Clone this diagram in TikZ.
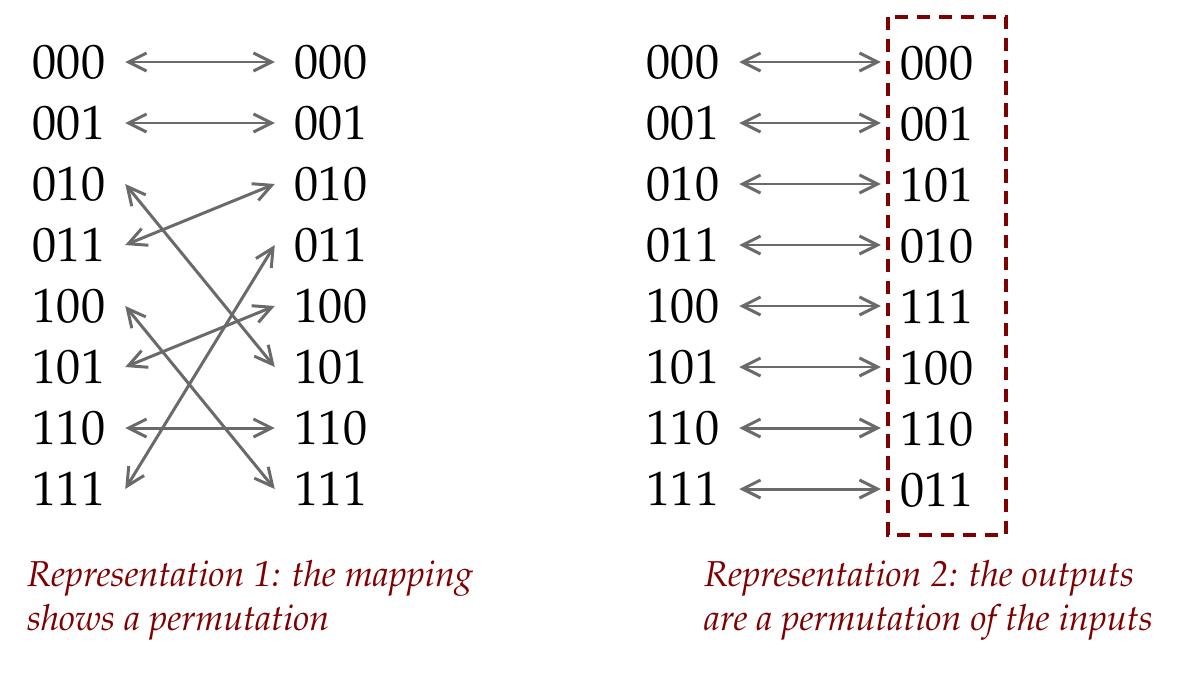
\documentclass[tikz,border=0pt]{standalone}
\usepackage[T1]{fontenc}
\usepackage{mathpazo}
\usepackage{tikz}
\usetikzlibrary{arrows.meta}
\definecolor{permGray}{HTML}{6A6A6A}
\definecolor{permRed}{HTML}{7F0000}

\begin{document}
\begin{tikzpicture}[font=\fontsize{27.5}{32}\selectfont, >={Straight Barb[length=3.6mm,width=3.6mm]},
  bits/.style={inner sep=0pt,outer xsep=0.4cm},
  perm/.style={<->,permGray,line width=1.7pt},
  captxt/.style={anchor=base west,align=left,permRed,font=\fontsize{20.5}{25}\selectfont\itshape},
  outbox/.style={permRed,line width=1.8pt,dash pattern=on 7.5pt off 5pt}]
\useasboundingbox (0,0) rectangle (24.04,-13.94);
% representation 1: every input mapped to its output
\begin{scope}
  \foreach \b [count=\i from 0] in {000,001,010,011,100,101,110,111} {
    \node[bits] (a\i) at (1.38,{-1.24-1.22*\i}) {\b};
    \node[bits] (b\i) at (6.62,{-1.24-1.22*\i}) {\b};
  }
  \foreach \i/\j in {0/0,1/1,2/5,3/2,4/7,5/4,6/6,7/3}
    \draw[perm] (a\i.east) -- (b\j.west);
  \node[captxt] (capA) at (0.42,-12.6) {Representation 1: the mapping\\shows a permutation};
\end{scope}
% representation 2: outputs listed beside the inputs
\begin{scope}
  \foreach \b/\c [count=\i from 0] in {000/000,001/001,010/101,011/010,100/111,101/100,110/110,111/011} {
    \node[bits] (x\i) at (13.66,{-1.24-1.22*\i}) {\b};
    \node[bits] (y\i) at (18.74,{-1.26-1.22*\i}) {\c};
    \draw[perm] (x\i.east) -- (x\i.east -| y\i.west);
  }
  \draw[outbox] (17.76,-0.34) rectangle (20.12,-10.70);
  \node[captxt] (capB) at (13.96,-12.6) {Representation 2: the outputs\\are a permutation of the inputs};
\end{scope}
\end{tikzpicture}
\end{document}
